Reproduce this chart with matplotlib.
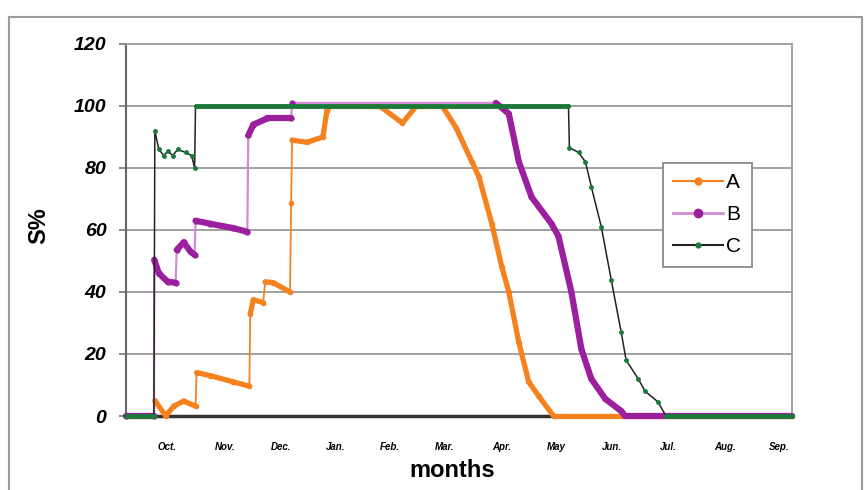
import matplotlib
matplotlib.use("Agg")
import matplotlib.pyplot as plt
from matplotlib.collections import LineCollection
from matplotlib.lines import Line2D
from matplotlib.patches import Rectangle

plt.rcParams["font.family"] = ["Liberation Sans", "DejaVu Sans"]

# x in days from start of the hydrological year (Oct .. Sep)
month_labels = ["Oct.", "Nov.", "Dec.", "Jan.", "Feb.", "Mar.", "Apr.",
                "May", "Jun.", "Jul.", "Aug.", "Sep."]
month_pos = [22.7, 54.3, 85, 115, 144.7, 174.8, 206, 235.7, 266.3, 297, 328.3, 357.9]

a_days = [0, 15.3, 15.8, 21.8, 26.2, 31.6, 38.1, 38.7, 46.3, 58.9,
          67.6, 68.1, 69.8, 75.2, 76.3, 80.7, 89.9, 90.5, 91.0, 99.2,
          107.9, 110.1, 111.7, 139, 151.5, 159.1, 173.3, 180.9, 189.6, 193.5,
          200.5, 206, 209.8, 215.3, 220.7, 226.2, 234.3, 365]
a_vals = [0, 0, 5, 0, 3.2, 4.8, 3.2, 14, 13, 11,
          9.6, 33, 37.5, 36.6, 43.3, 43, 40, 68.7, 89, 88.3,
          90, 98.5, 100, 100, 94.5, 100, 100, 93, 82, 77,
          62, 48, 40, 23.7, 11, 6.4, 0, 0]

b_days = [0, 15.3, 15.5, 18, 22.9, 27.2, 27.8, 31.6, 35.4, 37.6,
          38.1, 46.3, 58.9, 66.5, 67, 69.8, 77.4, 90.5, 91, 202.7,
          209.8, 215.3, 222.3, 233.2, 237, 244.1, 249.6, 255, 262.7, 271.4,
          273.6, 365]
b_vals = [0, 0, 50.4, 46, 43.3, 43, 53.6, 56, 53, 52,
          63, 62, 60.6, 59.4, 90.5, 94, 96, 96, 101, 101,
          97.5, 82, 70.6, 62, 58, 40, 21.5, 12, 5.5, 1.6,
          0, 0]

c_days = [0, 15.3, 15.8, 18, 20.7, 22.9, 25.6, 28.3, 32.7, 36,
          37.6, 38.1, 242.5, 243, 248, 251.8, 255, 260.5, 265.9, 271.4,
          274.1, 280.7, 284.5, 291.6, 295.9, 365]
c_vals = [0, 0, 92, 86, 84, 85.5, 84, 86, 85, 84,
          80, 100, 100, 86.6, 85, 82, 74, 61, 44, 27,
          18, 12, 8, 4.5, 0, 0]

orange = "#f5821f"
purple = "#9c1f9e"
pink = "#d58ad5"
green = "#1b7a3a"


def thick_segments(x, y, flat_only=False, thin_above=None):
    # the original series are daily, so markers merge into a thick band;
    # vertical jumps between two days stay thin
    segs = []
    for i in range(len(x) - 1):
        dx = x[i + 1] - x[i]
        dy = abs(y[i + 1] - y[i])
        if flat_only and dy > 0.5:
            continue
        if dx < 1.5 and dy > 3:
            continue
        if thin_above is not None and min(y[i], y[i + 1]) >= thin_above:
            continue
        segs.append([(x[i], y[i]), (x[i + 1], y[i + 1])])
    return segs


fig = plt.figure(figsize=(8.66, 4.9), dpi=100)
ax = fig.add_axes([126 / 866, 74 / 490, 666 / 866, 372 / 490])

for yv in [20, 40, 60, 80, 100]:
    ax.axhline(yv, color="#9a9a9a", lw=1.3, zorder=1)

# A
ax.plot(a_days, a_vals, color=orange, lw=1.3, marker="o", ms=3, zorder=3, clip_on=False)
ax.add_collection(LineCollection(thick_segments(a_days, a_vals), colors=orange,
                                 linewidths=3.8, capstyle="round", zorder=3, clip_on=False))
# B
ax.plot(b_days, b_vals, color=pink, lw=1.6, zorder=4, clip_on=False)
ax.plot(b_days[:-13], b_vals[:-13], ls="none", marker="o", ms=3.5, color=purple, zorder=4,
        clip_on=False)
ax.add_collection(LineCollection(thick_segments(b_days, b_vals, thin_above=100), colors=purple,
                                 linewidths=4.5, capstyle="round", zorder=4, clip_on=False))
# C
ax.plot(c_days, c_vals, color="#222222", lw=1.1, zorder=5, clip_on=False)
ax.plot(c_days, c_vals, ls="none", marker="o", ms=2.5, color=green, zorder=5, clip_on=False)
ax.add_collection(LineCollection(thick_segments(c_days, c_vals, flat_only=True), colors=green,
                                 linewidths=3.5, capstyle="round", zorder=5, clip_on=False))

ax.set_xlim(0, 365)
ax.set_ylim(0, 120)
ax.set_yticks([0, 20, 40, 60, 80, 100, 120])
ax.set_yticklabels(["0", "20", "40", "60", "80", "100", "120"],
                   fontsize=14, fontweight="bold", fontstyle="italic")
ax.set_xticks(month_pos)
ax.set_xticklabels(month_labels, fontsize=7, fontweight="bold", fontstyle="italic")
ax.tick_params(axis="x", length=0, pad=19)
ax.tick_params(axis="y", length=5, width=1.2, color="#777777", pad=9)

for side in ["top", "right"]:
    ax.spines[side].set_color("#9a9a9a")
    ax.spines[side].set_linewidth(1.3)
ax.spines["left"].set_color("#666666")
ax.spines["left"].set_linewidth(1.5)
ax.spines["bottom"].set_color("#333333")
ax.spines["bottom"].set_linewidth(2.5)

handles = [
    Line2D([], [], color=orange, lw=1.5, marker="o", ms=5),
    Line2D([], [], color=pink, lw=2, marker="o", ms=6, mfc=purple, mec=purple),
    Line2D([], [], color="#222222", lw=1.5, marker="o", ms=3.5, mfc=green, mec=green),
]
leg = ax.legend(handles, ["A", "B", "C"], loc="upper left", bbox_to_anchor=(0.806, 0.68),
                borderaxespad=0, fontsize=15, handlelength=2.4, handletextpad=0.15,
                labelspacing=0.62, borderpad=0.5, fancybox=False, framealpha=1)
leg.get_frame().set_edgecolor("#8a8a8a")
leg.get_frame().set_linewidth(1.3)

fig.text(39 / 866, 1 - 226 / 490, "S%", rotation=90, ha="center", va="center",
         fontsize=17, fontweight="bold")
fig.text(452 / 866, 1 - 470 / 490, "months", ha="center", va="center",
         fontsize=17, fontweight="bold")

# outer frame of the original figure
fig.patches.append(Rectangle((9 / 866, -0.01), 853 / 866, 1.01 - 17 / 490, fill=False,
                             edgecolor="#9a9a9a", lw=1.5, transform=fig.transFigure))

fig.savefig("out.png", dpi=100)
